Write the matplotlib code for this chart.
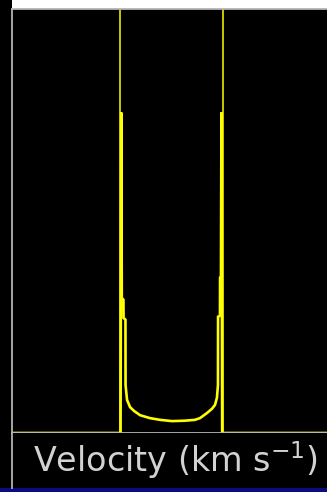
import matplotlib
matplotlib.use("Agg")
import matplotlib.pyplot as plt

W, H = 327, 492

# line profile (km/s, normalised flux)
vel = [-310, -99.0, -97.6, -96.6, -93.4, -93.2, -89.5, -89.3, -86.4, -80.6,
       -72.8, -61.2, -41.7, -22.3, 1.0, 26.2, 45.6, 55.3, 68.9, 78.6,
       84.5, 88.3, 90.3, 90.5, 94.2, 94.4, 96.1, 97.1, 98.5, 310]
flux = [0, 0, 0.755, 0.318, 0.314, 0.271, 0.267, 0.113, 0.078, 0.061,
        0.052, 0.042, 0.035, 0.031, 0.028, 0.029, 0.031, 0.035, 0.047, 0.057,
        0.066, 0.083, 0.113, 0.274, 0.276, 0.366, 0.370, 0.755, 0, 0]
vmax = [-100, 100]
xlabel = r"Velocity (km s$^{-1}$)"

def px(x0, y0, x1, y1):
    # pixel box -> figure fraction rect
    return [x0 / W, 1 - y1 / H, (x1 - x0) / W, (y1 - y0) / H]

def blank(rect, color):
    a = fig.add_axes(rect)
    a.set_facecolor(color)
    a.set_xticks([])
    a.set_yticks([])
    for s in a.spines.values():
        s.set_visible(False)
    return a

fig = plt.figure(figsize=(W / 100, H / 100), dpi=100, facecolor="black")

# white strip at the top, blue strip at the bottom
blank(px(12, 0, 331, 8.5), "white")
blank(px(-2, 488, 331, 494), "#0c0c82")

ax = fig.add_axes(px(12, 8.5, 331, 433))
ax.set_facecolor("black")
for v in vmax:
    ax.axvline(v, color="#d8d800", lw=1.3)
ax.plot(vel, flux, color="#ffff00", lw=1.9, solid_joinstyle="miter")
ax.set_xlim(-310, 310)
ax.set_ylim(0, 1)
ax.set_xticks([])
ax.set_yticks([])
for s in ["left", "top", "bottom"]:
    ax.spines[s].set_color("#b4b4b4")
    ax.spines[s].set_linewidth(1.3)
ax.spines["right"].set_visible(False)

lab = blank(px(12, 433, 331, 488), "black")
lab.spines["left"].set_visible(True)
lab.spines["left"].set_color("#b4b4b4")
lab.spines["left"].set_linewidth(1.3)
lab.text((175.5 - 12) / 319, 0.5, xlabel, transform=lab.transAxes,
         ha="center", va="center", color="#d2d2d2", fontsize=24,
         family="DejaVu Sans")

fig.savefig("out.png", dpi=100, facecolor="black")
